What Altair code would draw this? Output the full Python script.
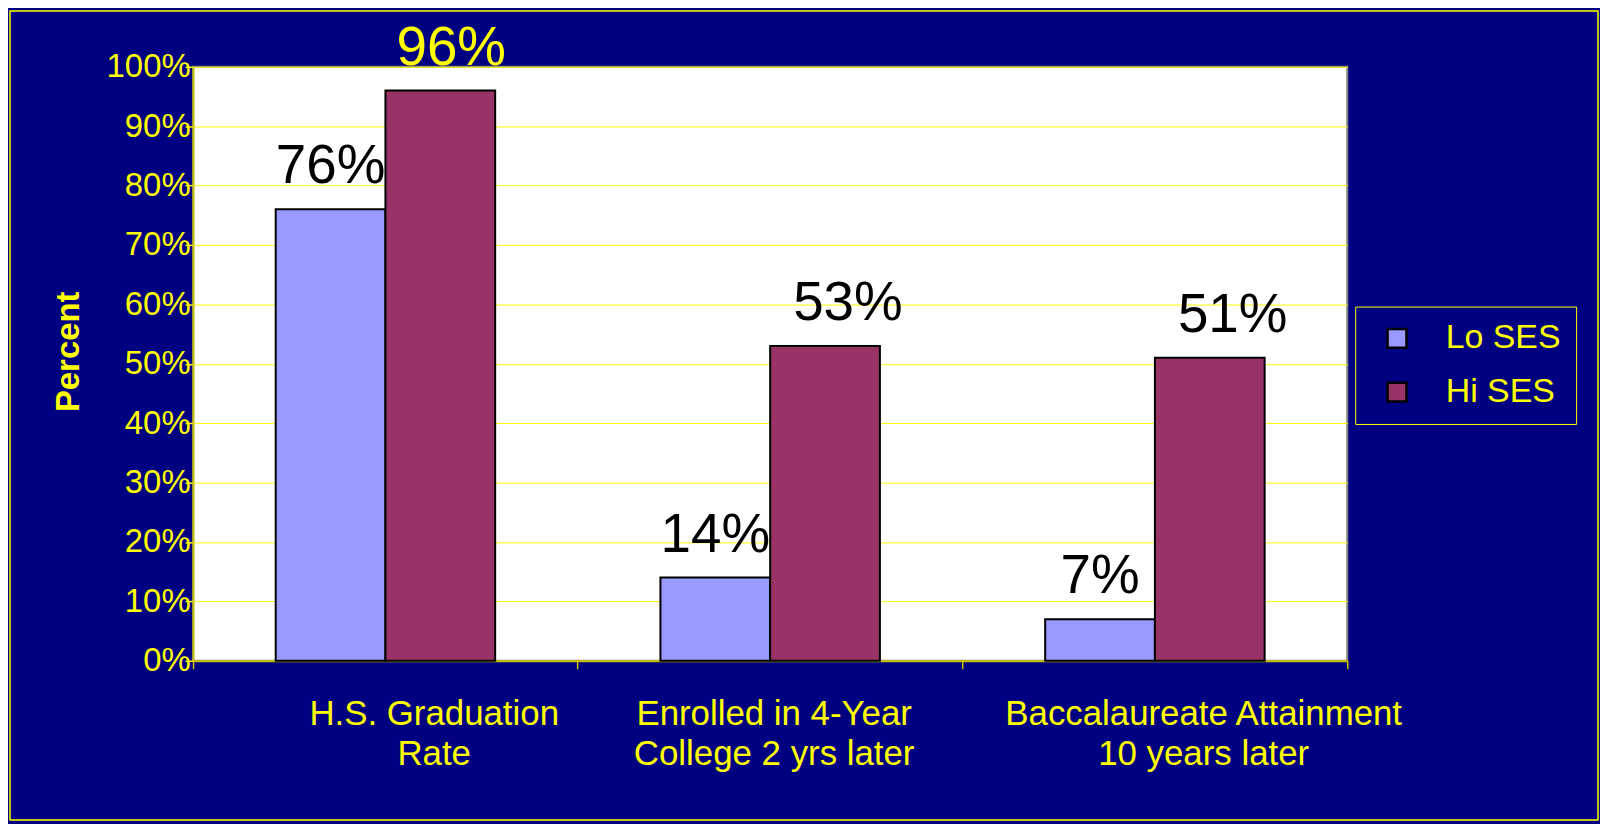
import altair as alt
import pandas as pd

FONT = "Liberation Sans"
NAVY = "#000080"
YELLOW = "#FFFF00"

categories = [
    "H.S. Graduation|Rate",
    "Enrolled in 4-Year|College 2 yrs later",
    "Baccalaureate Attainment|10 years later",
]
series = ["Lo SES", "Hi SES"]
lo_values = [0.76, 0.14, 0.07]
hi_values = [0.96, 0.53, 0.51]
bar_colors = ["#9999FF", "#993366"]
y_ticks = [0, 0.1, 0.2, 0.3, 0.4, 0.5, 0.6, 0.7, 0.8, 0.9, 1.0]

rows = []
for c, lo, hi in zip(categories, lo_values, hi_values):
    rows.append({"category": c, "series": "Lo SES", "value": lo})
    rows.append({"category": c, "series": "Hi SES", "value": hi})
df = pd.DataFrame(rows)

x_enc = alt.X(
    "category:N",
    sort=categories,
    title=None,
    scale=alt.Scale(paddingInner=0, paddingOuter=0),
    axis=alt.Axis(
        labelExpr="split(datum.label, '|')",
        labelColor=YELLOW,
        labelFont=FONT,
        labelFontSize=35,
        labelLineHeight=40,
        labelPadding=28,
        labelAngle=0,
        labelBaseline="top",
        labelLimit=0,
        labelOffset={
            "condition": {"test": f"datum.value === '{categories[1]}'", "value": 4},
            "value": 49,
        },
        bandPosition=1,
        tickExtra=True,
        tickSize=8,
        tickColor="#C8C000",
        tickWidth=1.5,
        domainColor="#C8C000",
        domainWidth=2,
        grid=False,
    ),
)
xoff_enc = alt.XOffset(
    "series:N",
    sort=series,
    scale=alt.Scale(domain=series, paddingInner=0, paddingOuter=0.753),
)
y_enc = alt.Y(
    "value:Q",
    scale=alt.Scale(domain=[0, 1], nice=False),
    axis=alt.Axis(
        values=y_ticks,
        format=".0%",
        labelColor=YELLOW,
        labelFont=FONT,
        labelFontSize=33,
        labelPadding=-5,
        tickSize=8,
        tickColor=YELLOW,
        tickWidth=1.5,
        domainColor="#C8C000",
        domainWidth=2,
        grid=True,
        gridColor=YELLOW,
        gridWidth=1,
        title="Percent",
        titleColor=YELLOW,
        titleFont=FONT,
        titleFontSize=33,
        titleFontWeight="bold",
        titleAngle=270,
        titleX=-115,
        titleY=286,
        titleAlign="center",
        titleBaseline="alphabetic",
    ),
)

base = alt.Chart(df)

bars = base.mark_bar(stroke="black", strokeWidth=2).encode(
    x=x_enc,
    xOffset=xoff_enc,
    y=y_enc,
    color=alt.Color(
        "series:N",
        scale=alt.Scale(domain=series, range=bar_colors),
        legend=alt.Legend(
            title=None,
            orient="none",
            legendX=1168,
            legendY=241,
            direction="vertical",
            strokeColor=YELLOW,
            fillColor=NAVY,
            padding=15,
            labelFont=FONT,
            labelFontSize=34,
            labelColor=YELLOW,
            symbolType="square",
            symbolSize=360,
            symbolStrokeColor="black",
            symbolStrokeWidth=2.5,
            symbolOffset=10,
            labelOffset=32,
            rowPadding=20,
        ),
    ),
)

text_common = dict(baseline="alphabetic", align="center", fontSize=55, font=FONT, dy=-26)

lo_text = base.transform_filter("datum.series === 'Lo SES'").mark_text(
    color="black", **text_common
).encode(x=x_enc, xOffset=xoff_enc, y=y_enc, text=alt.Text("value:Q", format=".0%"))

hi_text = base.transform_filter("datum.series === 'Hi SES' && datum.value < 0.9").mark_text(
    color="black", dx=23, **text_common
).encode(x=x_enc, xOffset=xoff_enc, y=y_enc, text=alt.Text("value:Q", format=".0%"))

top_text = base.transform_filter("datum.series === 'Hi SES' && datum.value >= 0.9").mark_text(
    color=YELLOW, dx=11, **text_common
).encode(x=x_enc, xOffset=xoff_enc, y=y_enc, text=alt.Text("value:Q", format=".0%"))

frame = alt.Chart(pd.DataFrame({"f": [0]})).mark_rect(
    filled=False, stroke=YELLOW, strokeWidth=1.5
).encode(
    x=alt.value(-184), x2=alt.value(1412), y=alt.value(-56), y2=alt.value(757)
)

chart = (
    alt.layer(bars, lo_text, hi_text, top_text, frame)
    .properties(
        width=1160,
        height=597,
        background=NAVY,
        padding={"left": 186, "top": 57, "right": 254, "bottom": 162},
        autosize=alt.AutoSizeParams(type="none"),
    )
    .configure_view(stroke="#808080", strokeWidth=2, fill="white")
)

chart.save("out.html", embed_options={"renderer": "svg", "actions": False})
